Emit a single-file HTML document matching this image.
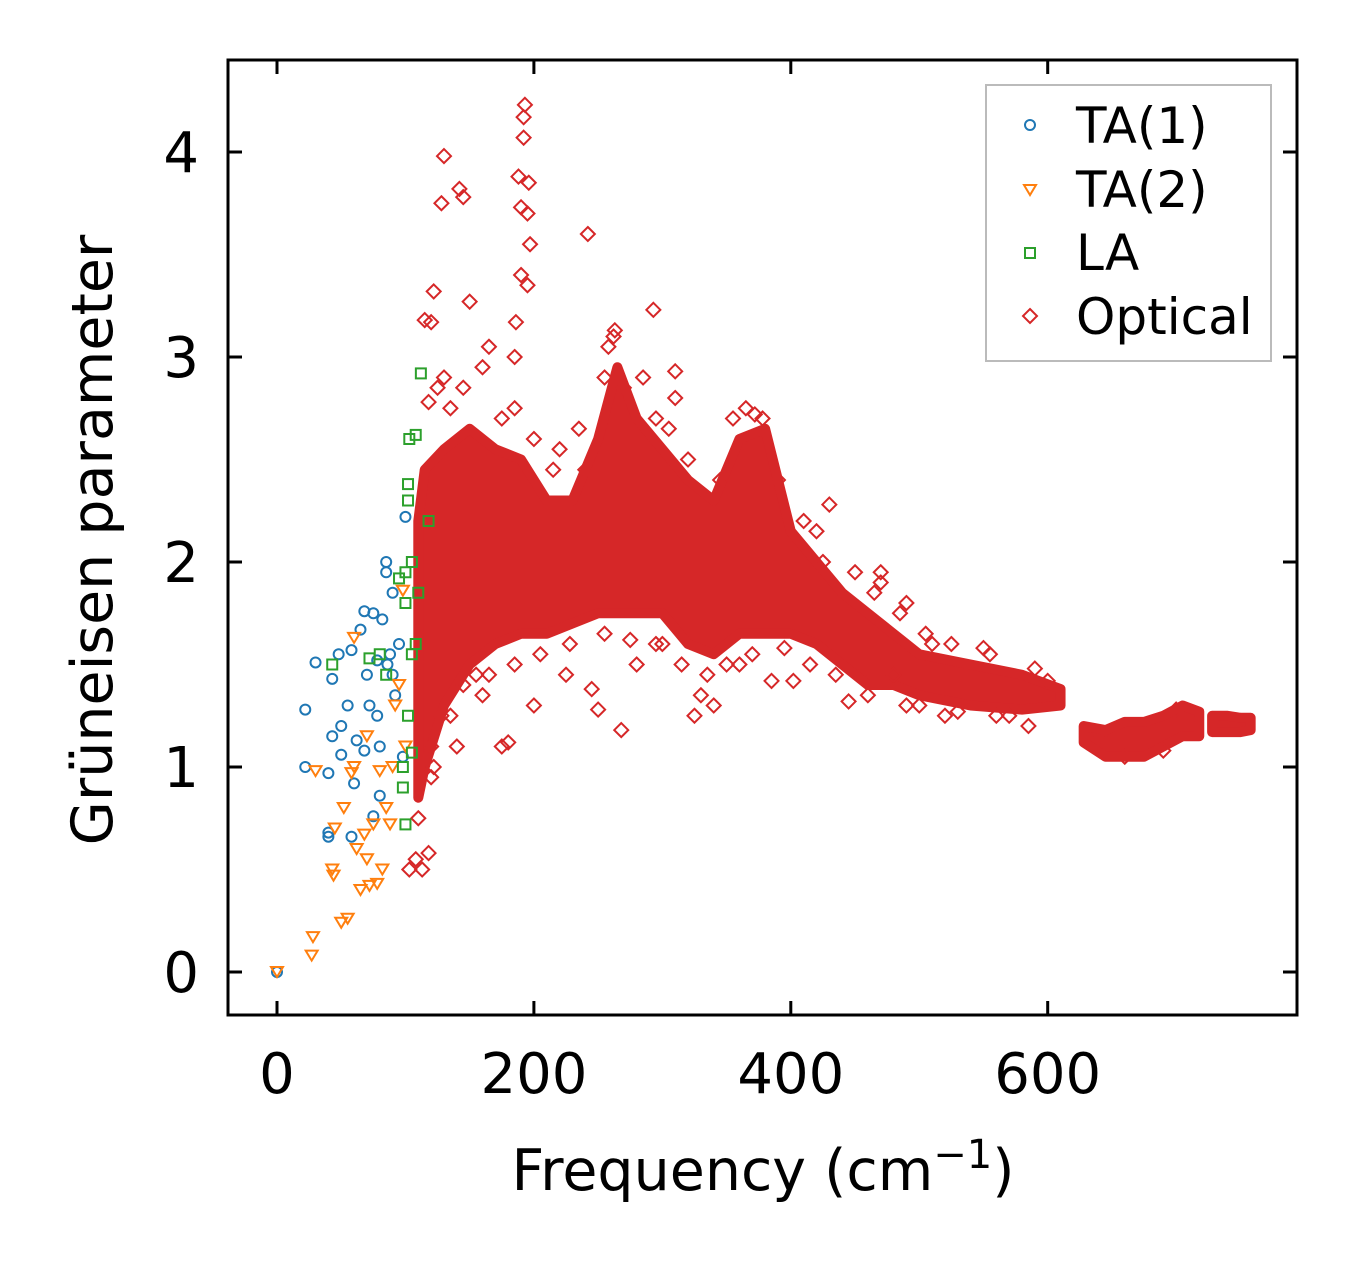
<!DOCTYPE html>
<html><head><meta charset="utf-8"><style>
html,body{margin:0;padding:0;background:#fff}
svg text{font-family:"DejaVu Sans","Liberation Sans",sans-serif;fill:#000}
</style></head><body>
<svg id="chart" width="1357" height="1264" xmlns="http://www.w3.org/2000/svg">
<rect x="0" y="0" width="1357" height="1264" fill="#fff"/>
<g id="marks"></g>
<rect x="228" y="60" width="1069" height="955" fill="none" stroke="#000" stroke-width="3"/>
<g id="axes"></g>
<text x="763" y="1190" font-size="57" text-anchor="middle">Frequency (cm<tspan font-size="40" dy="-22">−1</tspan><tspan dy="22">)</tspan></text>
<text transform="translate(112,540) rotate(-90)" font-size="57" text-anchor="middle">Grüneisen parameter</text>
<g>
<rect x="986" y="85" width="285" height="276" fill="#fff" stroke="#bbb" stroke-width="2"/>
<circle cx="1030" cy="125" r="5" fill="none" stroke="#1f77b4" stroke-width="2"/>
<text x="1076" y="143" font-size="50">TA(1)</text>
<path d="M1024,185 L1036,185 L1030,195 Z" fill="none" stroke="#ff7f0e" stroke-width="2"/>
<text x="1076" y="207" font-size="50">TA(2)</text>
<rect x="1025" y="248" width="10" height="10" fill="none" stroke="#2ca02c" stroke-width="2"/>
<text x="1076" y="270" font-size="50">LA</text>
<path d="M1030,309 L1037,316 L1030,323 L1023,316 Z" fill="none" stroke="#d62728" stroke-width="2"/>
<text x="1076" y="334" font-size="50">Optical</text>
</g>
</svg>
<script>
const xTicks=[0,200,400,600];
const yTicks=[0,1,2,3,4];
const ta1X=[0,22,22,30,40,43,43,40,48,50,55,58,60,62,65,68,70,72,75,78,80,80,82,85,88,90,92,95,100,98,75,68,50,58,85,90,40,86,78];
const ta1Y=[0,1.28,1.0,1.51,0.97,1.43,1.15,0.68,1.55,1.2,1.3,1.57,0.92,1.13,1.67,1.76,1.45,1.3,1.75,1.52,1.1,0.86,1.72,2.0,1.55,1.45,1.35,1.6,2.22,1.05,0.76,1.08,1.06,0.66,1.95,1.85,0.66,1.5,1.25];
const ta2X=[0,27,28,30,43,45,50,52,55,58,60,62,65,68,70,72,75,78,80,82,85,88,90,92,95,98,100,70,60,44];
const ta2Y=[0,0.08,0.17,0.98,0.5,0.7,0.24,0.8,0.26,0.97,1.63,0.6,0.4,0.67,0.55,0.42,0.72,0.43,0.98,0.5,0.8,0.72,1.0,1.3,1.4,1.86,1.1,1.15,1.0,0.47];
const laX=[43,72,80,85,95,100,102,103,105,108,110,112,118,100,98,102,105,98,108,105,100,102];
const laY=[1.5,1.53,1.55,1.45,1.92,1.8,2.38,2.6,2.0,2.62,1.85,2.92,2.2,0.72,0.9,1.25,1.07,1.0,1.6,1.55,1.95,2.3];
const bandFreq=[110,115,130,150,170,190,210,230,250,265,280,300,320,340,360,380,400,420,440,460,480,500,540,580,610];
const bandTop=[2.2,2.45,2.55,2.65,2.55,2.5,2.3,2.3,2.6,2.95,2.7,2.55,2.4,2.3,2.6,2.65,2.15,2.0,1.85,1.75,1.65,1.55,1.5,1.45,1.38];
const bandBot=[0.85,1.0,1.3,1.5,1.6,1.65,1.65,1.7,1.75,1.75,1.75,1.75,1.6,1.55,1.65,1.65,1.65,1.6,1.5,1.4,1.4,1.35,1.3,1.28,1.3];
const band2Freq=[628,645,660,675,690,705,718];
const band2Top=[1.2,1.18,1.22,1.22,1.25,1.3,1.27];
const band2Bot=[1.12,1.05,1.05,1.05,1.1,1.15,1.15];
const band3Freq=[728,740,750,758];
const band3Top=[1.25,1.25,1.24,1.24];
const band3Bot=[1.17,1.17,1.17,1.18];
const optX=[130,128,142,145,122,115,120,150,130,165,193,192,192,188,196,190,195,197,190,195,186,185,242,293,263,310,310,220,235,430,420,470,490,480,500,445,385,402,360,340,325,268,250,245,200,180,175,140,120,110,108,113,118,103,122,160,155,135,225,300,330,280,510,550,520,560,585,470,455,
  118,125,135,145,160,175,185,200,215,240,255,258,262,270,285,295,305,320,345,355,365,372,378,390,410,425,450,465,485,505,525,555,590,600,
  120,128,145,165,185,205,228,255,275,295,315,335,350,370,395,415,435,460,490,530,570,640,660,690,700];
const optY=[3.98,3.75,3.82,3.78,3.32,3.18,3.17,3.27,2.9,3.05,4.23,4.17,4.07,3.88,3.85,3.73,3.7,3.55,3.4,3.35,3.17,3.0,3.6,3.23,3.13,2.93,2.8,2.55,2.65,2.28,2.15,1.95,1.8,1.45,1.3,1.32,1.42,1.42,1.5,1.3,1.25,1.18,1.28,1.38,1.3,1.12,1.1,1.1,0.95,0.75,0.55,0.5,0.58,0.5,1.0,1.35,1.45,1.25,1.45,1.6,1.35,1.5,1.6,1.58,1.25,1.25,1.2,1.9,1.45,
  2.78,2.85,2.75,2.85,2.95,2.7,2.75,2.6,2.45,2.45,2.9,3.05,3.1,2.85,2.9,2.7,2.65,2.5,2.4,2.7,2.75,2.72,2.7,2.4,2.2,2.0,1.95,1.85,1.75,1.65,1.6,1.55,1.48,1.42,
  1.1,1.25,1.4,1.45,1.5,1.55,1.6,1.65,1.62,1.6,1.5,1.45,1.5,1.55,1.58,1.5,1.45,1.35,1.3,1.27,1.25,1.15,1.05,1.08,1.28];
const NS='http://www.w3.org/2000/svg';
const sx=v=>277+v*1.2845;
const sy=v=>972-v*205;
const marks=document.getElementById('marks');
const axes=document.getElementById('axes');
function mk(tag,attrs,parent){const e=document.createElementNS(NS,tag);for(const k in attrs)e.setAttribute(k,attrs[k]);parent.appendChild(e);return e;}
function band(fx,top,bot,name){
  let d='M'+fx.map((f,i)=>sx(f)+','+sy(top[i])).join(' L');
  for(let i=fx.length-1;i>=0;i--)d+=' L'+sx(fx[i])+','+sy(bot[i]);
  const p=mk('path',{d:d+' Z',fill:'#d62728',stroke:'#d62728','stroke-width':10,'stroke-linejoin':'round'},marks);
  
  
}
band(bandFreq,bandTop,bandBot,'optical-dense-band');
band(band2Freq,band2Top,band2Bot,'optical-band-650');
band(band3Freq,band3Top,band3Bot,'optical-band-740');
optX.forEach((x,i)=>{const cx=sx(x),cy=sy(optY[i]);
  const e=mk('path',{d:`M${cx},${cy-7} L${cx+7},${cy} L${cx},${cy+7} L${cx-7},${cy} Z`,fill:'none',stroke:'#d62728','stroke-width':2},marks);
  
  });
ta1X.forEach((x,i)=>{const e=mk('circle',{cx:sx(x),cy:sy(ta1Y[i]),r:5,fill:'none',stroke:'#1f77b4','stroke-width':2},marks);
  
  });
ta2X.forEach((x,i)=>{const cx=sx(x),cy=sy(ta2Y[i]);
  const e=mk('path',{d:`M${cx-6},${cy-5} L${cx+6},${cy-5} L${cx},${cy+5} Z`,fill:'none',stroke:'#ff7f0e','stroke-width':2},marks);
  
  });
laX.forEach((x,i)=>{const e=mk('rect',{x:sx(x)-5,y:sy(laY[i])-5,width:10,height:10,fill:'none',stroke:'#2ca02c','stroke-width':2},marks);
  
  });
xTicks.forEach(v=>{const x=sx(v);
  const t1=mk('line',{x1:x,x2:x,y1:1015,y2:1001,stroke:'#000','stroke-width':3},axes);
  
  
  const t2=mk('line',{x1:x,x2:x,y1:60,y2:74,stroke:'#000','stroke-width':3},axes);
  
  
  const l=mk('text',{x:x,y:1093,'font-size':56,'text-anchor':'middle'},axes);l.textContent=v;
  
  });
yTicks.forEach(v=>{const y=sy(v);
  const t1=mk('line',{x1:228,x2:242,y1:y,y2:y,stroke:'#000','stroke-width':3},axes);
  
  
  const t2=mk('line',{x1:1283,x2:1297,y1:y,y2:y,stroke:'#000','stroke-width':3},axes);
  
  
  const l=mk('text',{x:199,y:y+20,'font-size':56,'text-anchor':'end'},axes);l.textContent=v;
  
  });
</script>
</body></html>
